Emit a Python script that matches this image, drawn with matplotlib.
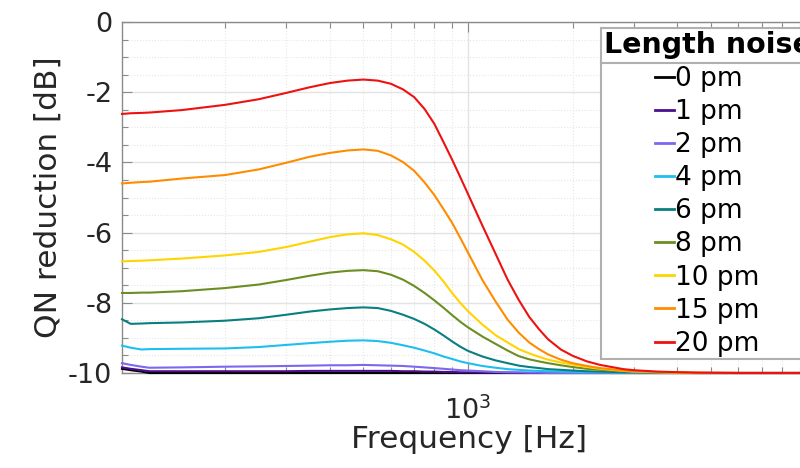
import matplotlib
matplotlib.use("Agg")
import matplotlib.pyplot as plt
from matplotlib.lines import Line2D
from matplotlib.ticker import MultipleLocator, LogLocator, NullFormatter, FixedLocator

plt.rcParams['font.family'] = ['DejaVu Sans']
plt.rcParams['axes.unicode_minus'] = False

# ---------------- data ----------------
freq_hz = [101, 107, 115, 121, 150, 200, 250, 300, 350, 400, 450, 500, 550, 600,
           650, 700, 750, 800, 850, 900, 950, 1000, 1100, 1200, 1300, 1400, 1500,
           1600, 1700, 1850, 2000, 2200, 2400, 2800, 3000, 3500, 4500, 6000, 10000]

noise_0pm = [-9.88, -9.92, -9.96, -10.0,
             -10.0, -10.0, -10.0, -10.0, -10.0, -10.0, -10.0, -10.0, -10.0, -10.0,
             -10.0, -10.0, -10.0, -10.0, -10.0, -10.0, -10.0, -10.0,
             -10.0, -10.0, -10.0, -10.0, -10.0, -10.0, -10.0, -10.0, -10.0,
             -10.0, -10.0, -10.0, -10.0, -10.0, -10.0, -10.0, -10.0]
noise_1pm = [-9.84, -9.88, -9.92, -9.95,
             -9.95, -9.95, -9.95, -9.95, -9.94, -9.94, -9.94, -9.94, -9.94, -9.94,
             -9.95, -9.95, -9.96, -9.96, -9.97, -9.97, -9.98, -9.98,
             -9.99, -9.99, -9.99, -10.0, -10.0, -10.0, -10.0, -10.0, -10.0,
             -10.0, -10.0, -10.0, -10.0, -10.0, -10.0, -10.0, -10.0]
noise_2pm = [-9.72, -9.77, -9.82, -9.85,
             -9.84, -9.82, -9.81, -9.80, -9.79, -9.78, -9.78, -9.77, -9.78, -9.79,
             -9.80, -9.82, -9.84, -9.86, -9.88, -9.90, -9.92, -9.93,
             -9.95, -9.97, -9.98, -9.98, -9.99, -9.99, -10.0, -10.0, -10.0,
             -10.0, -10.0, -10.0, -10.0, -10.0, -10.0, -10.0, -10.0]
noise_4pm = [-9.22, -9.28, -9.33, -9.32,
             -9.31, -9.30, -9.26, -9.20, -9.15, -9.11, -9.08, -9.07, -9.09, -9.14,
             -9.21, -9.28, -9.36, -9.44, -9.53, -9.60, -9.67, -9.72,
             -9.80, -9.85, -9.89, -9.91, -9.93, -9.94, -9.95, -9.96, -9.97,
             -9.98, -9.98, -9.99, -9.99, -10.0, -10.0, -10.0, -10.0]
noise_6pm = [-8.47, -8.60, -8.59, -8.58,
             -8.56, -8.51, -8.44, -8.34, -8.25, -8.19, -8.15, -8.13, -8.15, -8.23,
             -8.34, -8.46, -8.60, -8.76, -8.93, -9.10, -9.25, -9.37,
             -9.53, -9.64, -9.72, -9.79, -9.83, -9.86, -9.89, -9.91, -9.93,
             -9.95, -9.96, -9.98, -9.98, -9.99, -10.0, -10.0, -10.0]
noise_8pm = [-7.72, -7.72, -7.71, -7.71,
             -7.67, -7.58, -7.48, -7.35, -7.23, -7.14, -7.09, -7.07, -7.10, -7.20,
             -7.34, -7.52, -7.72, -7.93, -8.14, -8.35, -8.54, -8.70,
             -8.96, -9.17, -9.36, -9.52, -9.61, -9.67, -9.72, -9.78, -9.83,
             -9.88, -9.91, -9.95, -9.96, -9.98, -10.0, -10.0, -10.0]
noise_10pm = [-6.82, -6.81, -6.80, -6.79,
              -6.74, -6.65, -6.55, -6.41, -6.26, -6.13, -6.05, -6.02, -6.07, -6.19,
              -6.34, -6.55, -6.80, -7.08, -7.39, -7.72, -8.00, -8.24,
              -8.62, -8.92, -9.13, -9.32, -9.44, -9.54, -9.62, -9.70, -9.76,
              -9.83, -9.88, -9.94, -9.96, -9.98, -10.0, -10.0, -10.0]
noise_15pm = [-4.60, -4.58, -4.56, -4.55,
              -4.46, -4.36, -4.20, -4.01, -3.84, -3.73, -3.66, -3.63, -3.67, -3.80,
              -3.99, -4.24, -4.57, -4.93, -5.33, -5.72, -6.15, -6.57,
              -7.35, -7.96, -8.48, -8.85, -9.13, -9.32, -9.47, -9.62, -9.72,
              -9.80, -9.86, -9.93, -9.95, -9.97, -9.99, -10.0, -10.0]
noise_20pm = [-2.62, -2.60, -2.59, -2.58,
              -2.51, -2.36, -2.20, -2.02, -1.86, -1.74, -1.67, -1.64, -1.67, -1.76,
              -1.92, -2.14, -2.48, -2.90, -3.42, -3.92, -4.42, -4.90,
              -5.80, -6.60, -7.34, -7.92, -8.40, -8.75, -9.04, -9.33, -9.51,
              -9.67, -9.77, -9.89, -9.92, -9.96, -9.99, -10.0, -10.0]

series_labels = ['0 pm', '1 pm', '2 pm', '4 pm', '6 pm', '8 pm', '10 pm', '15 pm', '20 pm']
series_values = [noise_0pm, noise_1pm, noise_2pm, noise_4pm, noise_6pm,
                 noise_8pm, noise_10pm, noise_15pm, noise_20pm]
series_colors = ['#000000', '#4B0F8C', '#7B68EE', '#1EBFF0', '#0A7F7F',
                 '#6B8E23', '#FFD400', '#FF8C00', '#EE1111']

y_ticks = [-10, -8, -6, -4, -2, 0]
x_ticks = [1000]

# ---------------- figure ----------------
fig = plt.figure(figsize=(8.0, 4.68), dpi=100)
ax = fig.add_axes([122/800, 1-373/468, 693.5/800, 351/468])

for vals, lab, col in zip(series_values, series_labels, series_colors):
    ax.plot(freq_hz, vals, color=col, lw=1.5, label=lab, clip_on=False, zorder=3)

ax.set_xscale('log')
ax.set_xlim(101, 10000)
ax.set_ylim(-10, 0)
ax.set_yticks(y_ticks)
ax.set_yticklabels([str(t) for t in y_ticks])
ax.yaxis.set_minor_locator(MultipleLocator(0.5))
ax.xaxis.set_major_locator(FixedLocator(x_ticks))
ax.xaxis.set_minor_locator(LogLocator(base=10, subs=range(2, 10), numticks=20))
ax.xaxis.set_minor_formatter(NullFormatter())

ax.grid(True, which='major', color='#e3e3e3', lw=1.0, ls='-')
ax.grid(True, which='minor', color='#e6e6e6', lw=0.8, ls=':')
ax.set_axisbelow(True)

for sp in ax.spines.values():
    sp.set_color('#8a8a8a')
    sp.set_linewidth(1.0)

ax.tick_params(which='both', direction='in', top=True, right=True,
               colors='#8a8a8a', labelcolor='#262626', labelsize=19.5)
ax.tick_params(which='major', length=7, width=0.8)
ax.tick_params(which='minor', length=4, width=0.8)
ax.tick_params(axis='y', which='major', pad=7)
ax.tick_params(axis='x', which='major', pad=17)

ax.set_xlabel('Frequency [Hz]', fontsize=22.5, color='#262626', labelpad=0)
ax.set_ylabel('QN reduction [dB]', fontsize=22.5, color='#262626', labelpad=4)

leg = ax.legend(title='Length noise', loc='upper left',
                bbox_to_anchor=(601/800, 1-28/468), bbox_transform=fig.transFigure,
                borderaxespad=0, fontsize=19, handlelength=0.7, handletextpad=0.05,
                labelspacing=0.27, borderpad=0.1, fancybox=False, framealpha=1,
                edgecolor='#b0b0b0', alignment='center')
leg.get_title().set_fontsize(20.5)
leg.get_title().set_fontweight('bold')
leg.get_frame().set_linewidth(1.5)
for h in leg.get_lines():
    h.set_linewidth(2)

fig.canvas.draw()
r = fig.canvas.get_renderer()
tb = leg.get_title().get_window_extent(r)
fb = leg.get_frame().get_window_extent(r)
ysep = (tb.y0 - 4) / fig.bbox.height
fig.add_artist(Line2D([fb.x0 / fig.bbox.width, fb.x1 / fig.bbox.width], [ysep, ysep],
                      transform=fig.transFigure, color='#b0b0b0', lw=1.5, zorder=10))

fig.savefig('out.png', dpi=100)
